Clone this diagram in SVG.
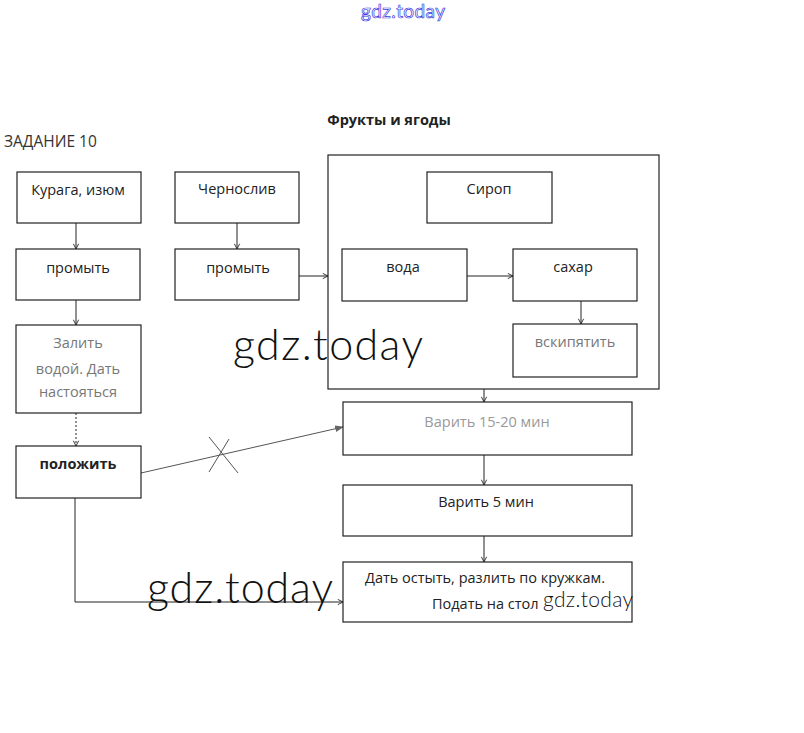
<svg xmlns="http://www.w3.org/2000/svg" width="804" height="733" viewBox="0 0 804 733">
<style>
.box{fill:#fff;stroke:#222;stroke-width:1.2}
.t{font-family:"Open Sans","Liberation Sans",Arial,sans-serif;font-size:14.5px;fill:#222;text-anchor:middle}
.g{fill:#777}
.lg{fill:#999}
.c{fill:none;stroke:#222;stroke-width:1}
.wm{font-family:"Lato","DejaVu Sans",sans-serif;font-weight:300;fill:#111}
</style>
<defs>
<marker id="a" viewBox="0 0 8 8" refX="7" refY="4" markerWidth="7" markerHeight="7" orient="auto" markerUnits="userSpaceOnUse">
<path d="M1,1 L7,4 L1,7" fill="none" stroke="#222" stroke-width="1"/>
</marker>
<marker id="ag" viewBox="0 0 8 8" refX="7" refY="4" markerWidth="9" markerHeight="9" orient="auto" markerUnits="userSpaceOnUse">
<path d="M0,1 L8,4 L0,7 Z" fill="#666"/>
</marker>
</defs>
<rect width="804" height="733" fill="#fff"/>
<text x="403" y="18" text-anchor="middle" font-family="Lato,'DejaVu Sans',sans-serif" font-size="19" fill="none" stroke="#3c3ce0" stroke-width="0.7" textLength="84">gdz.today</text>
<text x="389" y="125" class="t" font-weight="bold" font-size="14">Фрукты и ягоды</text>
<text x="4" y="147" font-family="'Open Sans','Liberation Sans',Arial,sans-serif" font-size="15.5" fill="#333">ЗАДАНИЕ 10</text>

<g id="outer"><rect class="box" x="328" y="155" width="331" height="234"/></g>

<g id="connectors">
<line class="c" x1="76" y1="223" x2="76" y2="249" marker-end="url(#a)"/>
<line class="c" x1="237" y1="223" x2="237" y2="249" marker-end="url(#a)"/>
<line class="c" x1="76" y1="300" x2="76" y2="325" marker-end="url(#a)"/>
<line class="c" x1="76" y1="413" x2="76" y2="446" stroke-dasharray="2,2" stroke="#777" marker-end="url(#a)"/>
<line class="c" x1="299" y1="276" x2="328" y2="276" marker-end="url(#a)"/>
<line class="c" x1="467" y1="276" x2="513" y2="276" marker-end="url(#a)"/>
<line class="c" x1="581" y1="301" x2="581" y2="324" marker-end="url(#a)"/>
<line class="c" x1="484" y1="389" x2="484" y2="402" marker-end="url(#a)"/>
<line class="c" x1="484" y1="455" x2="484" y2="485" marker-end="url(#a)"/>
<line class="c" x1="484" y1="536" x2="484" y2="562" marker-end="url(#a)"/>
<line x1="141" y1="473" x2="343" y2="427" stroke="#555" stroke-width="1" marker-end="url(#ag)"/>
<line x1="209" y1="437" x2="238" y2="473" stroke="#555" stroke-width="1"/>
<line x1="229" y1="439" x2="209" y2="472" stroke="#555" stroke-width="1"/>
<polyline class="c" points="75,498 75,602 343,602" marker-end="url(#a)"/>
</g>

<g id="n1"><rect class="box" x="17" y="172" width="124" height="51"/><text class="t" x="78" y="195">Курага, изюм</text></g>
<g id="n2"><rect class="box" x="16" y="249" width="124" height="51"/><text class="t" x="78" y="273">промыть</text></g>
<g id="n3"><rect class="box" x="175" y="172" width="124" height="51"/><text class="t" x="237" y="194">Чернослив</text></g>
<g id="n4"><rect class="box" x="175" y="249" width="124" height="51"/><text class="t" x="238" y="273">промыть</text></g>
<g id="n5"><rect class="box" x="16" y="325" width="125" height="88" stroke="#444"/>
<text class="t g" x="78" y="348">Залить</text><text class="t g" x="78" y="374">водой. Дать</text><text class="t g" x="78" y="397">настояться</text></g>
<g id="n6"><rect class="box" x="16" y="446" width="125" height="52"/><text class="t" x="78" y="469" font-size="13" font-weight="bold" fill="#333">положить</text></g>
<g id="n7"><rect class="box" x="427" y="172" width="125" height="51"/><text class="t" x="489" y="194">Сироп</text></g>
<g id="n8"><rect class="box" x="342" y="249" width="125" height="52"/><text class="t" x="403" y="272">вода</text></g>
<g id="n9"><rect class="box" x="513" y="249" width="124" height="52"/><text class="t" x="573" y="272">сахар</text></g>
<g id="n10"><rect class="box" x="513" y="324" width="124" height="53" stroke="#555"/><text class="t g" x="575" y="347" font-size="13.5">вскипятить</text></g>
<g id="n11"><rect class="box" x="343" y="402" width="289" height="53" stroke="#444"/><text class="t lg" x="487" y="427">Варить 15-20 мин</text></g>
<g id="n12"><rect class="box" x="343" y="485" width="289" height="51"/><text class="t" x="486" y="507">Варить 5 мин</text></g>
<g id="n13"><rect class="box" x="343" y="562" width="289" height="60"/><text class="t" x="485" y="583">Дать остыть, разлить по кружкам.</text><text class="t" x="432" y="609" style="text-anchor:start">Подать на стол</text></g>

<text class="wm" x="233" y="360" font-size="43" textLength="190">gdz.today</text>
<text class="wm" x="147" y="603" font-size="43" textLength="186">gdz.today</text>
<text class="wm" x="543" y="607" font-size="21" textLength="90">gdz.today</text>
</svg>
